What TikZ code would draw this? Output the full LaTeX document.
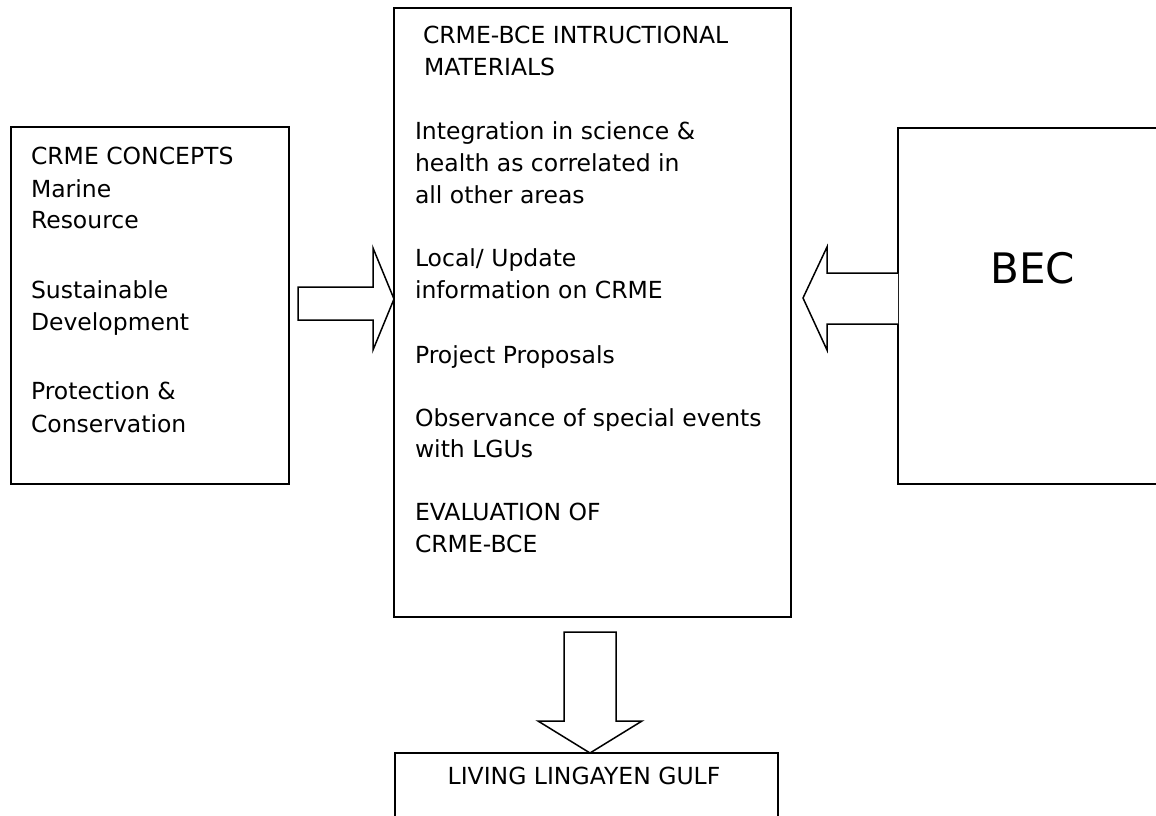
\documentclass[tikz,border=0pt]{standalone}
\usepackage{fontspec}
\setmainfont{DejaVu Sans}
\begin{document}
\begin{tikzpicture}[x=1pt,y=-1pt,
  panel/.style={draw=black,line width=2.2pt,rectangle,outer sep=0pt,inner sep=0pt,anchor=north west},
  txt/.style={anchor=base west,inner sep=0pt,outer sep=0pt,font=\fontsize{23.5}{28}\selectfont},
  blockarrow/.style={draw=black,fill=white,line width=1.5pt,line join=miter}]
\useasboundingbox (0,0) rectangle (1156,816);
\clip (0,0) rectangle (1156,816);
% boxes
\node[panel,minimum width=278pt,minimum height=357pt] (concepts) at (11,127) {};
\node[panel,minimum width=397pt,minimum height=609pt] (mat) at (394,8) {};
\node[panel,minimum width=320pt,minimum height=356pt] (bec) at (898,128) {};
\node[panel,minimum width=383pt,minimum height=110pt] (gulf) at (395,753) {};
% left box text
\node[txt] (c1) at (31,164) {CRME CONCEPTS};
\node[txt] (c2) at (31,197) {Marine};
\node[txt] (c3) at (31,228) {Resource};
\node[txt] (c4) at (31,298) {Sustainable};
\node[txt] (c5) at (31,330) {Development};
\node[txt] (c6) at (31,399) {Protection \&};
\node[txt] (c7) at (31,432) {Conservation};
% centre box text
\node[txt] (m0) at (423,44) {CRME-BCE INTRUCTIONAL};
\node[txt] (m1) at (424,75) {MATERIALS};
\node[txt] (m2) at (415,139) {Integration in science \&};
\node[txt] (m3) at (415,171) {health as correlated in};
\node[txt] (m4) at (415,203) {all other areas};
\node[txt] (m5) at (415,266) {Local/ Update};
\node[txt] (m6) at (415,298) {information on CRME};
\node[txt] (m7) at (415,363) {Project Proposals};
\node[txt] (m8) at (415,426) {Observance of special events};
\node[txt] (m9) at (415,457) {with LGUs};
\node[txt] (m10) at (415,520) {EVALUATION OF};
\node[txt] (m11) at (415,552) {CRME-BCE};
% BEC
\node[anchor=base west,inner sep=0pt,font=\fontsize{42}{48}\selectfont] (beclabel) at (990,283) {BEC};
% bottom text
\node[anchor=base,inner sep=0pt,font=\fontsize{23.5}{28}\selectfont] (gulflabel) at (584,784) {LIVING LINGAYEN GULF};
% block arrows
\draw[blockarrow] (298,287) -- (373,287) -- (373,248) -- (mat.west |- 0,299) -- (373,350) -- (373,320) -- (298,320) -- cycle;
\draw[blockarrow] (bec.west |- 0,273) -- (827,273) -- (827,247) -- (803,298) -- (827,350) -- (827,324) -- (bec.west |- 0,324);
\draw[blockarrow] (564,632) -- (616,632) -- (616,721) -- (642,721) -- (gulf.north -| 590,0) -- (538,721) -- (564,721) -- cycle;
\end{tikzpicture}
\end{document}
